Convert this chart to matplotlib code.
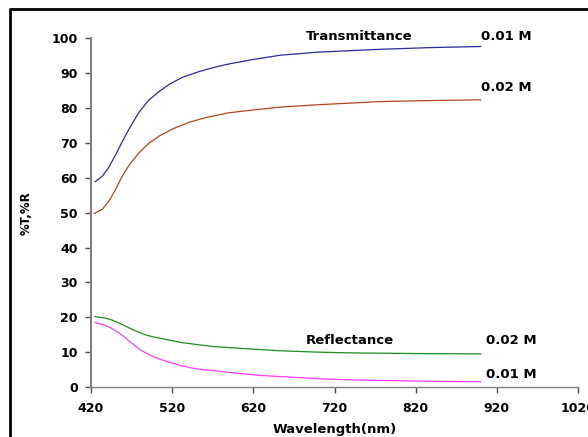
import matplotlib
matplotlib.use('Agg')
import matplotlib.pyplot as plt
from matplotlib.lines import Line2D

''' DATA '''

# transmittance, 0.01 M
wl_t1 = [425, 434, 442, 450, 458, 467, 479, 491, 504, 516, 532, 553, 573, 590,
         620, 653, 700, 776, 840, 900]
t1 = [58.9, 60.5, 63.1, 66.5, 70.2, 74.1, 78.8, 82.3, 84.8, 86.8, 88.8, 90.5, 91.8, 92.7,
      94.0, 95.2, 96.1, 96.9, 97.4, 97.7]

# transmittance, 0.02 M
wl_t2 = [424, 434, 442, 450, 458, 467, 479, 491, 504, 520, 540, 561, 590,
         620, 653, 700, 776, 840, 900]
t2 = [49.8, 51.0, 53.3, 56.6, 60.3, 63.7, 67.2, 69.9, 72.0, 74.0, 75.9, 77.3, 78.7,
      79.5, 80.3, 81.0, 81.9, 82.2, 82.4]

# reflectance, 0.02 M
wl_r2 = [425, 437, 446, 455, 464, 472, 480, 488, 498, 509, 520, 530, 550, 571, 610,
         653, 700, 736, 820, 900]
r2 = [20.2, 19.8, 19.2, 18.3, 17.3, 16.4, 15.6, 14.9, 14.3, 13.8, 13.3, 12.8, 12.2, 11.6, 11.0,
      10.4, 10.0, 9.8, 9.6, 9.5]

# reflectance, 0.01 M
wl_r1 = [425, 435, 444, 452, 460, 468, 475, 481, 489, 497, 507, 518, 530, 543, 557, 571,
         590, 611, 630, 653, 707, 750, 801, 850, 900]
r1 = [18.5, 17.9, 17.0, 15.9, 14.5, 13.0, 11.7, 10.6, 9.6, 8.7, 7.8, 7.0, 6.2, 5.5, 5.0, 4.7,
      4.2, 3.7, 3.3, 3.0, 2.3, 2.0, 1.8, 1.6, 1.5]

xticks = [420, 520, 620, 720, 820, 920, 1020]
yticks = [0, 10, 20, 30, 40, 50, 60, 70, 80, 90, 100]


''' PLOTTING '''

plt.rcParams['font.family'] = 'DejaVu Sans'
fig = plt.figure(figsize=(5.88, 4.37), dpi=100)
ax = fig.add_axes([0.1548, 0.1144, 0.8282, 0.7975])

ax.plot(wl_t1, t1, color='#2a2a9c', lw=0.9)
ax.plot(wl_t2, t2, color='#b0461e', lw=0.9)
ax.plot(wl_r2, r2, color='#1f8c1f', lw=0.9)
ax.plot(wl_r1, r1, color='#ff3cff', lw=0.9)

# curve labels
ax.text(750, 100.7, 'Transmittance', ha='center', va='center', fontsize=9.5, weight='bold')
ax.text(900, 100.7, '0.01 M', ha='left', va='center', fontsize=9.5, weight='bold')
ax.text(900, 85.9, '0.02 M', ha='left', va='center', fontsize=9.5, weight='bold')
ax.text(739, 13.3, 'Reflectance', ha='center', va='center', fontsize=9.5, weight='bold')
ax.text(907, 13.3, '0.02 M', ha='left', va='center', fontsize=9.5, weight='bold')
ax.text(907, 3.6, '0.01 M', ha='left', va='center', fontsize=9.5, weight='bold')

# format axes
ax.set_xlim(420, 1020)
ax.set_ylim(0, 100)
ax.set_xticks(xticks)
ax.set_yticks(yticks)
ax.set_xticklabels([str(v) for v in xticks], fontsize=9, weight='bold')
ax.set_yticklabels([str(v) for v in yticks], fontsize=9, weight='bold')
ax.spines['top'].set_visible(False)
ax.spines['right'].set_visible(False)
ax.spines['left'].set_color('#808080')
ax.spines['bottom'].set_color('#808080')
ax.spines['left'].set_linewidth(1.5)
ax.spines['bottom'].set_linewidth(1.0)
ax.tick_params(axis='both', direction='out', length=4.5, width=1, color='#505050')
ax.tick_params(axis='y', pad=5)
ax.tick_params(axis='x', pad=6)
ax.set_xlabel('Wavelength(nm)', fontsize=9.5, weight='bold', labelpad=6)
ax.set_ylabel('%T,%R', fontsize=8.5, weight='bold', labelpad=14)

# black frame around the plot area
fig.add_artist(Line2D([10/588, 10/588, 1.0], [0.0, 1 - 9/437, 1 - 9/437],
                      transform=fig.transFigure, color='black', lw=2))

plt.savefig('out.png', dpi=100)
